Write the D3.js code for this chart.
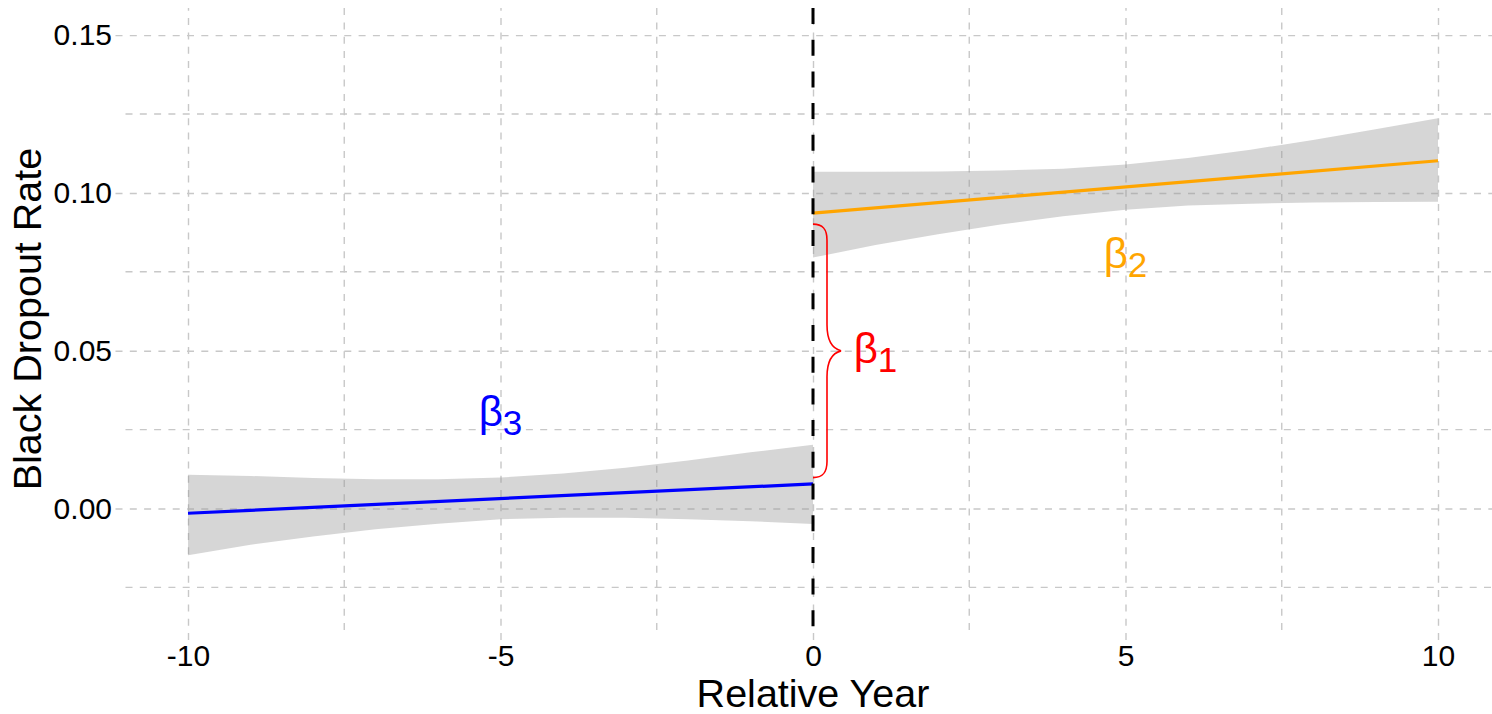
<!DOCTYPE html>
<html>
<head>
<meta charset="utf-8">
<script src="https://cdn.jsdelivr.net/npm/d3@7"></script>
<style>
  body { margin: 0; background: #fff; }
  svg text { font-family: 'Liberation Sans', Arial, sans-serif; }
</style>
</head>
<body>
<svg id="chart" width="1492" height="714"></svg>
<script>
// axis breaks
const xBreaks = [-10, -5, 0, 5, 10];
const xMinor = [-7.5, -2.5, 2.5, 7.5];
const yBreaks = [0, 0.05, 0.10, 0.15];
const yLabels = ['0.00', '0.05', '0.10', '0.15'];
const yMinor = [-0.025, 0.025, 0.075, 0.125];

// before cutoff (blue fit + CI)
const preYears = [-10, -9, -8, -7, -6, -5, -4, -3, -2, -1, 0];
const preLower = [-0.0148, -0.0115, -0.0089, -0.0066, -0.0048, -0.0034, -0.0029, -0.0029, -0.0034, -0.0040, -0.0049];
const preUpper = [0.0107, 0.0103, 0.0097, 0.0093, 0.0093, 0.0098, 0.0111, 0.0129, 0.0152, 0.0178, 0.0202];
const preFitX = [-10, 0];
const preFitY = [-0.0015, 0.0078];

// after cutoff (orange fit + CI)
const postYears = [0, 1, 2, 3, 4, 5, 6, 7, 8, 9, 10];
const postLower = [0.0795, 0.0835, 0.0869, 0.0900, 0.0926, 0.0947, 0.0960, 0.0966, 0.0970, 0.0971, 0.0972];
const postUpper = [0.1067, 0.1067, 0.1068, 0.1071, 0.1077, 0.1090, 0.1111, 0.1137, 0.1168, 0.1202, 0.1237];
const postFitX = [0, 10];
const postFitY = [0.0936, 0.1102];

// brace for the jump
const braceX = 0;
const braceLow = 0.0098;
const braceHigh = 0.0901;

// beta annotations
const labelX = [1, 5, -5];
const labelY = [0.05, 0.08, 0.03];
const labelSub = ['1', '2', '3'];
const labelColor = ['#ff0000', '#ffa500', '#0000ff'];

const width = 1492;
const pLeft = 125.5, pRight = 1500.5, pTop = 8, pBottom = 630;
const gridColor = '#c8c8c8';

const svg = d3.select('#chart');

const x = d3.scaleLinear().domain([-11, 11]).range([pLeft, pRight]);
const y = d3.scaleLinear().domain([-0.0385, 0.1586]).range([pBottom, pTop]);

// minor grid
svg.append('g')
  .selectAll('line')
  .data(yMinor)
  .enter()
  .append('line')
  .attr('x1', pLeft)
  .attr('x2', width)
  .attr('y1', d => y(d))
  .attr('y2', d => y(d))
  .attr('stroke', gridColor)
  .attr('stroke-width', 1.4)
  .attr('stroke-dasharray', '7,7.3');

svg.append('g')
  .selectAll('line')
  .data(xMinor)
  .enter()
  .append('line')
  .attr('x1', d => x(d))
  .attr('x2', d => x(d))
  .attr('y1', pBottom)
  .attr('y2', pTop)
  .attr('stroke', gridColor)
  .attr('stroke-width', 1.4)
  .attr('stroke-dasharray', '7,7.3');

// major grid + labels via axes
const yAxis = d3.axisLeft(y)
  .tickValues(yBreaks)
  .tickFormat((d, i) => yLabels[i])
  .tickSizeInner(-(width - pLeft))
  .tickSizeOuter(0)
  .tickPadding(13.5);

const gy = svg.append('g')
  .attr('transform', `translate(${pLeft},0)`)
  .call(yAxis);
gy.select('.domain').remove();
gy.selectAll('.tick line')
  .attr('x1', -10)
  .attr('stroke', gridColor)
  .attr('stroke-width', 1.4)
  .attr('stroke-dasharray', '7,7.3');
gy.selectAll('.tick text')
  .attr('fill', '#000')
  .style('font-size', '30px')
  .style('font-family', "'Liberation Sans', Arial, sans-serif");

const xAxis = d3.axisBottom(x)
  .tickValues(xBreaks)
  .tickFormat(d => String(d))
  .tickSizeInner(-(pBottom - pTop))
  .tickSizeOuter(0)
  .tickPadding(15);

const gx = svg.append('g')
  .attr('transform', `translate(0,${pBottom})`)
  .call(xAxis);
gx.select('.domain').remove();
gx.selectAll('.tick line')
  .attr('y1', 10)
  .attr('stroke', gridColor)
  .attr('stroke-width', 1.4)
  .attr('stroke-dasharray', '7,7.3');
gx.selectAll('.tick text')
  .attr('fill', '#000')
  .style('font-size', '30px')
  .style('font-family', "'Liberation Sans', Arial, sans-serif");

// confidence ribbons
const area = d3.area()
  .x(d => x(d[0]))
  .y0(d => y(d[1]))
  .y1(d => y(d[2]));

svg.append('path')
  .datum(preYears.map((yr, i) => [yr, preLower[i], preUpper[i]]))
  .attr('d', area)
  .attr('fill', '#999999')
  .attr('fill-opacity', 0.4);

svg.append('path')
  .datum(postYears.map((yr, i) => [yr, postLower[i], postUpper[i]]))
  .attr('d', area)
  .attr('fill', '#999999')
  .attr('fill-opacity', 0.4);

// fitted lines
const line = d3.line()
  .x(d => x(d[0]))
  .y(d => y(d[1]));

svg.append('path')
  .datum(preFitX.map((v, i) => [v, preFitY[i]]))
  .attr('d', line)
  .attr('fill', 'none')
  .attr('stroke', '#0000ff')
  .attr('stroke-width', 3.2);

svg.append('path')
  .datum(postFitX.map((v, i) => [v, postFitY[i]]))
  .attr('d', line)
  .attr('fill', 'none')
  .attr('stroke', '#ffa500')
  .attr('stroke-width', 3.2);

// cutoff line
svg.append('line')
  .attr('x1', x(0))
  .attr('x2', x(0))
  .attr('y1', pTop)
  .attr('y2', pBottom)
  .attr('stroke', '#000')
  .attr('stroke-width', 3)
  .attr('stroke-dasharray', '16,15.7');

// curly brace
const bx = x(braceX);
const yt = y(braceHigh);
const yb = y(braceLow);
const ym = (yt + yb) / 2;
const w1 = 14, w2 = 28;
const bracePath = [
  `M${bx},${yt}`,
  `C${bx + 10},${yt} ${bx + w1},${yt + 5} ${bx + w1},${yt + 16}`,
  `L${bx + w1},${ym - 26}`,
  `C${bx + w1},${ym - 10} ${bx + w1 + 6},${ym - 2} ${bx + w2},${ym}`,
  `C${bx + w1 + 6},${ym + 2} ${bx + w1},${ym + 10} ${bx + w1},${ym + 26}`,
  `L${bx + w1},${yb - 16}`,
  `C${bx + w1},${yb - 5} ${bx + 10},${yb} ${bx},${yb}`
].join(' ');

svg.append('path')
  .attr('d', bracePath)
  .attr('fill', 'none')
  .attr('stroke', '#ff0000')
  .attr('stroke-width', 1.6);

// beta labels
labelX.forEach((lx, i) => {
  const t = svg.append('text')
    .attr('x', x(lx))
    .attr('y', y(labelY[i]) + 12)
    .attr('text-anchor', 'middle')
    .attr('fill', labelColor[i]);
  t.append('tspan')
    .style('font-size', '42px')
    .text('β');
  t.append('tspan')
    .attr('dy', 9)
    .style('font-size', '35px')
    .text(labelSub[i]);
});

// axis titles
svg.append('text')
  .attr('x', (pLeft + pRight) / 2)
  .attr('y', 707)
  .attr('text-anchor', 'middle')
  .style('font-size', '39.5px')
  .text('Relative Year');

svg.append('text')
  .attr('transform', `translate(41, ${(pTop + pBottom) / 2}) rotate(-90)`)
  .attr('text-anchor', 'middle')
  .style('font-size', '39.5px')
  .text('Black Dropout Rate');
</script>
</body>
</html>
